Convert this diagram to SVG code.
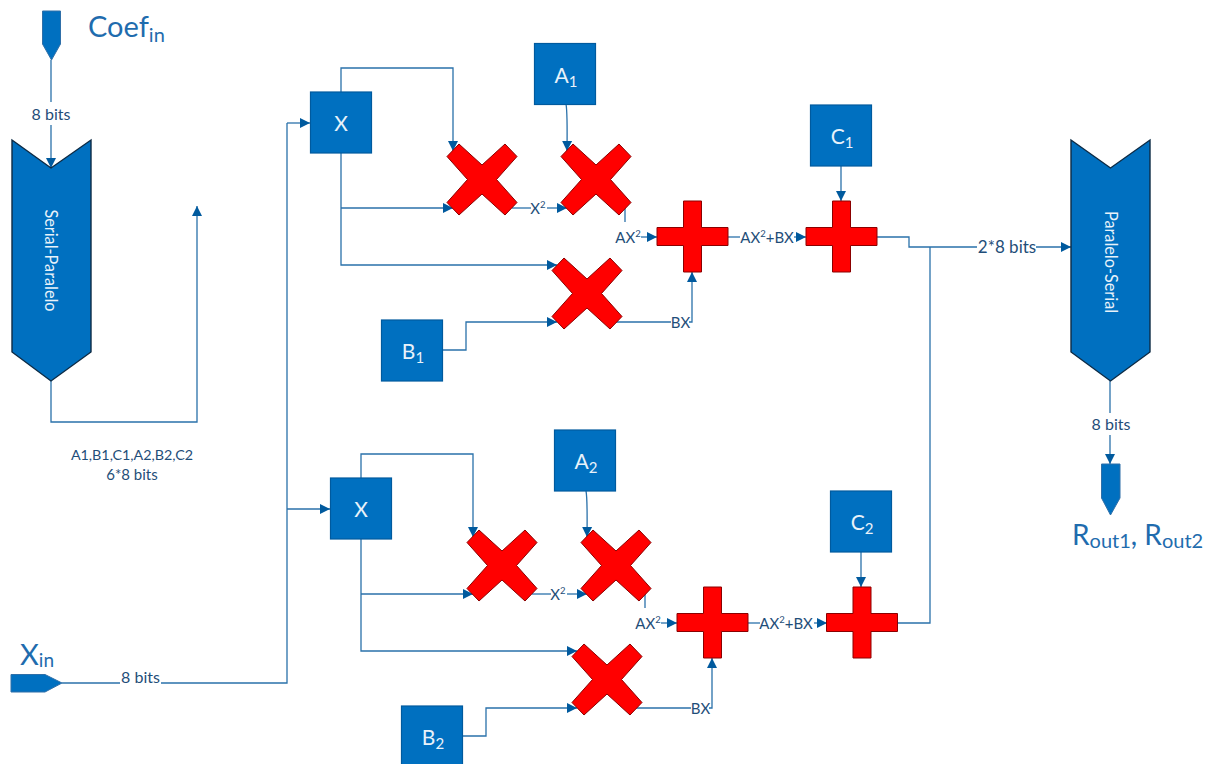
<svg xmlns="http://www.w3.org/2000/svg" width="1206" height="764" viewBox="0 0 1206 764">
<style>
text{font-family:Lato,"Liberation Sans",sans-serif}
.c{fill:none;stroke:#2a71aa;stroke-width:1.3}
.a{marker-end:url(#ah)}
.l{font-size:15px;fill:#1f4e79;text-anchor:middle}
.w{font-size:16px}
.s{font-size:9.500px}
.t{fill:#1f6cae;font-size:29px}
.sb{font-size:20px}
.b{fill:#0070c0;stroke:#005a9e;stroke-width:1.2}
.h{fill:#0070c0;stroke:#0d2b45;stroke-width:1.4}
.p{fill:#0070c0;stroke:#2f6fa8;stroke-width:1}
.r{fill:#f00;stroke:#8b0000;stroke-width:1}
.n{font-size:21px;text-anchor:middle;fill:#e8f2fa}
.ns{font-size:15px}
.v{font-size:16.300px;fill:#e8f2fa;text-anchor:middle}
</style>
<defs>
<marker id="ah" markerUnits="userSpaceOnUse" markerWidth="11" markerHeight="11" refX="10" refY="5.500" orient="auto"><path d="M0,0.500 L10,5.500 L0,10.500 Z" fill="#005a9e"/></marker>
<path id="mul" d="M-35,-23 L-23,-35.500 L0,-14.500 L23,-35.500 L35,-23 L14.500,0 L35,23 L23,35.500 L0,14.500 L-23,35.500 L-35,23 L-14.500,0 Z"/>
<path id="add" d="M-9,-35.500 H9 V-9 H35.500 V9 H9 V35.500 H-9 V9 H-35.500 V-9 H-9 Z"/>
</defs>
<g id="connectors">
<path class="c" d="M51,60 V102"/><path class="c a" d="M51,125 V168"/>
<path class="c a" d="M51,381 V422 H197 V206"/>
<path class="c" d="M62,683 H120"/>
<path class="c" d="M161,683 H287 V123"/>
<path class="c a" d="M287,123 H310"/>
<path class="c a" d="M287,509 H330"/>
<path class="c a" d="M341,92 V68 H453 V151"/>
<path class="c a" d="M341,153 V265 H557"/>
<path class="c a" d="M341,208 H453"/>
<path class="c" d="M512,208 H531"/><path class="c a" d="M547,208 H567"/>
<path class="c a" d="M566,104 Q567.500,112 567,151"/>
<path class="c" d="M625,208 V222"/><path class="c a" d="M641,237 H657"/>
<path class="c" d="M616,322 H671"/><path class="c a" d="M689,322 H692 V272"/>
<path class="c a" d="M443,350 H466 V322 H557"/>
<path class="c" d="M728,237 H740"/><path class="c a" d="M794,237 H806"/>
<path class="c a" d="M841,166 V201"/>
<path class="c" d="M877,237 H909 V247 H977"/><path class="c a" d="M1036,247 H1071"/>
<path class="c" d="M930,247 V623 H898"/>
<path class="c" d="M1110,381 V413"/><path class="c a" d="M1110,435 V464"/>
<path class="c a" d="M361,478 V454 H473 V537"/>
<path class="c a" d="M361,539 V651 H577"/>
<path class="c a" d="M361,594 H473"/>
<path class="c" d="M532,594 H551"/><path class="c a" d="M567,594 H587"/>
<path class="c a" d="M586,491 Q587.500,498 587,537"/>
<path class="c" d="M645,594 V608"/><path class="c a" d="M661,623 H677"/>
<path class="c" d="M636,708 H691"/><path class="c a" d="M709,708 H712 V658"/>
<path class="c a" d="M463,736 H486 V708 H577"/>
<path class="c" d="M748,623 H760"/><path class="c a" d="M814,623 H827"/>
<path class="c a" d="M861,552 V587"/>
</g>
<g id="coef-in"><path class="p" d="M42.500,11 H60.500 V44 L51.500,60 L42.500,44 Z"/><text class="t" x="88" y="37">Coef<tspan class="sb" dy="5">in</tspan></text></g>
<g id="x-in"><path class="p" d="M11,674.500 H45 L62,683 L45,692 H11 Z"/><text class="t" x="20" y="665">X<tspan class="sb" dy="2" style="font-size:19px">in</tspan></text></g>
<g id="serial-paralelo"><path class="h" d="M12,140 L51,168 L91,140 V352 L51,381 L12,352 Z"/><text class="v" transform="translate(45,260.500) rotate(90)">Serial-Paralelo</text></g>
<g id="paralelo-serial"><path class="h" d="M1071,140 L1110.500,168 L1150,140 V352 L1110.500,381 L1071,352 Z"/><text class="v" transform="translate(1105,262) rotate(90)">Paralelo-Serial</text></g>
<g id="r-out"><path class="p" d="M1101.500,464 H1120 V498 L1110.500,515 L1101.500,498 Z"/><text class="t" x="1072" y="545" style="font-size:28px">R<tspan class="sb" dy="3">out1</tspan><tspan dy="-3">, R</tspan><tspan class="sb" dy="3">out2</tspan></text></g>
<g id="x1"><rect class="b" x="310.500" y="92" width="61" height="61"/><text class="n" x="341" y="131">X</text></g>
<g id="a1"><rect class="b" x="534.500" y="43.500" width="61" height="61"/><text class="n" x="566" y="83">A<tspan class="ns" dy="3.500">1</tspan></text></g>
<g id="b1"><rect class="b" x="381.500" y="320" width="61" height="61"/><text class="n" x="413" y="359">B<tspan class="ns" dy="3.500">1</tspan></text></g>
<g id="c1"><rect class="b" x="810.500" y="105" width="61" height="61"/><text class="n" x="842" y="144">C<tspan class="ns" dy="3.500">1</tspan></text></g>
<g id="x2"><rect class="b" x="330.500" y="478" width="61" height="61"/><text class="n" x="361" y="517">X</text></g>
<g id="a2"><rect class="b" x="554.500" y="430" width="61" height="61"/><text class="n" x="586" y="469">A<tspan class="ns" dy="3.500">2</tspan></text></g>
<g id="b2"><rect class="b" x="401.500" y="706" width="61" height="61"/><text class="n" x="433" y="745">B<tspan class="ns" dy="3.500">2</tspan></text></g>
<g id="c2"><rect class="b" x="830.500" y="491" width="61" height="61"/><text class="n" x="862" y="530">C<tspan class="ns" dy="3.500">2</tspan></text></g>
<g id="mul-1"><use href="#mul" class="r" x="482" y="179.500"/></g>
<g id="mul-2"><use href="#mul" class="r" x="596" y="179.500"/></g>
<g id="mul-3"><use href="#mul" class="r" x="587" y="293.500"/></g>
<g id="add-1"><use href="#add" class="r" x="692.500" y="236.500"/></g>
<g id="add-2"><use href="#add" class="r" x="841.500" y="236.500"/></g>
<g id="mul-4"><use href="#mul" class="r" x="502" y="565.500"/></g>
<g id="mul-5"><use href="#mul" class="r" x="616" y="565.500"/></g>
<g id="mul-6"><use href="#mul" class="r" x="607" y="679.500"/></g>
<g id="add-3"><use href="#add" class="r" x="712.500" y="622.500"/></g>
<g id="add-4"><use href="#add" class="r" x="862" y="622.500"/></g>
<g id="labels">
<text class="l w" x="51" y="120">8 bits</text>
<text class="l" x="132" y="460" style="font-size:14.300px">A1,B1,C1,A2,B2,C2</text>
<text class="l" x="132" y="479.500">6*8 bits</text>
<text class="l w" x="140.500" y="682.500">8 bits</text>
<text class="l" x="538" y="213.500">X<tspan class="s" dy="-5.500">2</tspan></text>
<text class="l" x="628" y="242.500">AX<tspan class="s" dy="-5.500">2</tspan></text>
<text class="l" x="680.500" y="327.500">BX</text>
<text class="l" x="767" y="242.500">AX<tspan class="s" dy="-5.500">2</tspan><tspan dy="5.500">+BX</tspan></text>
<text class="l" x="1007" y="253" style="font-size:17px">2*8 bits</text>
<text class="l w" x="1111" y="430">8 bits</text>
<text class="l" x="558" y="599.500">X<tspan class="s" dy="-5.500">2</tspan></text>
<text class="l" x="648" y="628.500">AX<tspan class="s" dy="-5.500">2</tspan></text>
<text class="l" x="700.500" y="713.500">BX</text>
<text class="l" x="786" y="628.500">AX<tspan class="s" dy="-5.500">2</tspan><tspan dy="5.500">+BX</tspan></text>
</g>
</svg>
